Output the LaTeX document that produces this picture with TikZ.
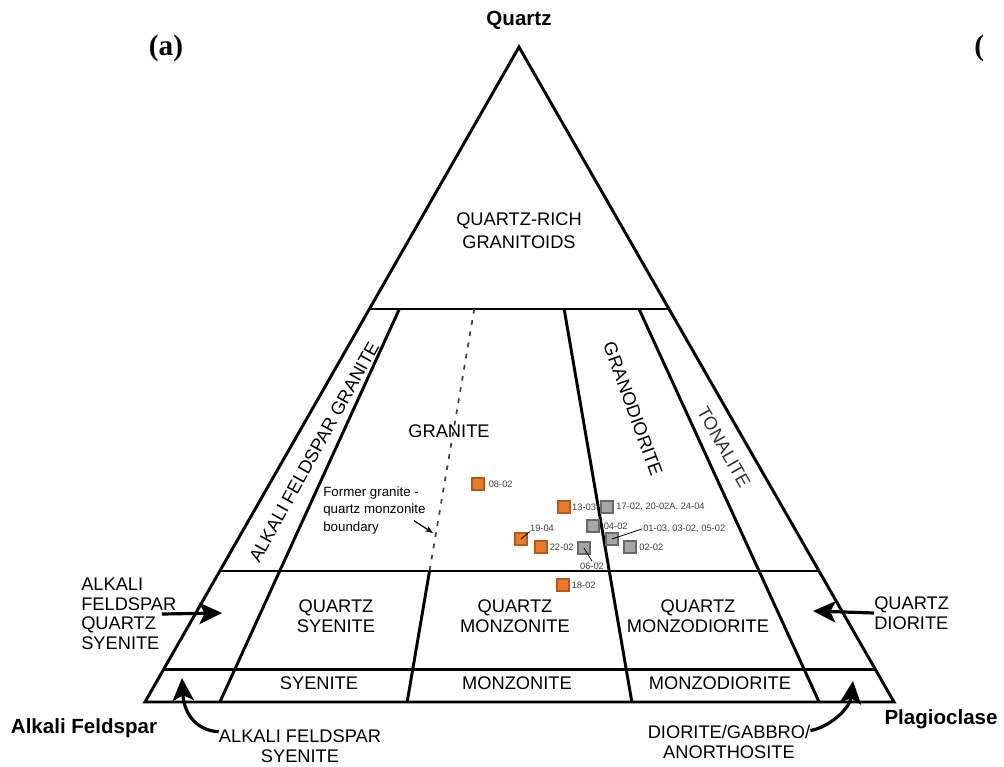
\documentclass[tikz,border=0pt]{standalone}
\usepackage{fontspec}
\setmainfont{Liberation Sans}
\newfontfamily\panelfont{Liberation Serif}
\usetikzlibrary{positioning,calc,arrows.meta}
\definecolor{smporange}{RGB}{232,122,40}
\definecolor{smporangedk}{RGB}{185,88,25}
\definecolor{smpgray}{RGB}{166,166,166}
\definecolor{smpgraydk}{RGB}{105,105,105}
\tikzset{
  fieldline/.style={line width=2.2pt},
  formerline/.style={line width=1.3pt, black!75, dash pattern=on 3.5pt off 5pt},
  fieldlbl/.style={font=\fontsize{13.7}{14.6}\selectfont, align=center, inner sep=0pt},
  endmember/.style={font=\bfseries\fontsize{15.4}{18}\selectfont, inner sep=0pt},
  smpbox/.style={draw, line width=0.8pt, minimum size=9pt, inner sep=0pt},
  orangebox/.style={smpbox, fill=smporange, draw=smporangedk},
  graybox/.style={smpbox, fill=smpgray, draw=smpgraydk},
  smplbl/.style={font=\fontsize{7}{8}\selectfont, text=black!75, inner sep=0pt},
  fieldarrow/.style={line width=2.4pt, -{Stealth[length=17pt,width=16pt,inset=4pt]}},
  smallarrow/.style={line width=0.9pt, -{Stealth[length=6pt,width=4.5pt]}},
  leader/.style={line width=0.6pt}
}
\begin{document}
\begin{tikzpicture}[x=0.75pt,y=-0.75pt]
\useasboundingbox (0,0) rectangle (1004,767);

% corners of the QAP triangle
\coordinate (Qz) at (519,47);
\coordinate (Af) at (145,702);
\coordinate (Pl) at (894,702);

% base points of the radial boundaries, P/(A+P)
\foreach \r/\nm in {0.10/b10,0.35/b35,0.65/b65,0.90/b90}
  \coordinate (\nm) at ($(Af)!\r!(Pl)$);

\draw[fieldline] (Qz) -- (Af) -- (Pl) -- cycle;

% Q = 60, 20 and 5
\foreach \q in {0.6,0.2,0.05}
  \draw[fieldline] ($(Af)!\q!(Qz)$) -- ($(Pl)!\q!(Qz)$);

% radial boundaries below Q = 60
\foreach \b in {b10,b65,b90}
  \draw[fieldline] ($(Qz)!0.4!(\b)$) -- (\b);
\draw[fieldline] ($(Qz)!0.8!(b35)$) -- (b35);
\draw[formerline] ($(Qz)!0.4!(b35)$) -- ($(Qz)!0.8!(b35)$);

% end members
\node[endmember, anchor=base] (qtz) at (519,26) {Quartz};
\node[endmember, anchor=base] (alk) at (84,733) {Alkali Feldspar};
\node[endmember, anchor=base] (plg) at (941,724) {Plagioclase};
\node[font=\panelfont\bfseries\fontsize{22}{24}\selectfont, anchor=base, inner sep=0pt]
  (pa) at (166,56) {(a)};
\node[font=\panelfont\bfseries\fontsize{22}{24}\selectfont, anchor=base west, inner sep=0pt]
  (pb) at (974,56) {(};

% fields
\node[fieldlbl, font=\fontsize{13.7}{17.3}\selectfont] (qrg) at (519,231) {QUARTZ-RICH\\GRANITOIDS};
\node[fieldlbl, rotate=61] (afg) at (314,452) {ALKALI FELDSPAR GRANITE};
\node[fieldlbl] (gra) at (449,431) {GRANITE};
\node[fieldlbl, rotate=-70] (grd) at (633,409) {GRANODIORITE};
\node[fieldlbl, rotate=-60.5, text=black!80] (ton) at (724,447) {TONALITE};
\node[fieldlbl] (qsy) at (336,616) {QUARTZ\\SYENITE};
\node[fieldlbl] (qmz) at (515,616) {QUARTZ\\MONZONITE};
\node[fieldlbl] (qmd) at (698,616) {QUARTZ\\MONZODIORITE};
\node[fieldlbl] (sye) at (319,683) {SYENITE};
\node[fieldlbl] (mzn) at (517,683) {MONZONITE};
\node[fieldlbl] (mzd) at (720,683) {MONZODIORITE};

% fields named outside the triangle
\node[fieldlbl, align=left, anchor=west] (afqs) at (81,614) {ALKALI\\FELDSPAR\\QUARTZ\\SYENITE};
\node[fieldlbl, align=left, anchor=west] (qd) at (874,613) {QUARTZ\\DIORITE};
\node[fieldlbl] (afs) at (300,746) {ALKALI FELDSPAR\\SYENITE};
\node[fieldlbl] (dga) at (729,742) {DIORITE/GABBRO/\\ANORTHOSITE};

\coordinate (afqsTip) at (222,613);
\coordinate (qdTip) at (813,611);
\coordinate (afsTip) at (182,678);
\coordinate (dgaTip) at (853,681);
\coordinate (fbTip) at (433,533);

\draw[fieldarrow] ([xshift=-11pt]afqs.east) -- (afqsTip);
\draw[fieldarrow] (qd.west) -- (qdTip);
\draw[fieldarrow] (afs.170) .. controls (198,731) and (184,715) .. (afsTip);
\draw[fieldarrow] (dga.8) .. controls (830,727) and (850,708) .. (dgaTip);

% former boundary note
\node[font=\fontsize{10}{12.8}\selectfont, align=left, anchor=north west, inner sep=0pt]
  (fb) at (323,487) {Former granite -\\quartz monzonite\\boundary};
\draw[smallarrow] ([shift={(-12,10)}]fb.east) -- (fbTip);

% samples
\node[orangebox] (s0802) at (478,484) {};
\node[orangebox] (s1303) at (564,507) {};
\node[orangebox] (s1904) at (521,539) {};
\node[orangebox] (s2202) at (541,547) {};
\node[orangebox] (s1802) at (563,585) {};
\node[graybox] (s1702) at (607,507) {};
\node[graybox] (s0402) at (593,526) {};
\node[graybox] (s0103) at (612,539) {};
\node[graybox] (s0202) at (630,547) {};
\node[graybox] (s0602) at (584,548) {};

\node[smplbl, right=3pt of s0802] (l0802) {08-02};
\node[smplbl, right=1pt of s1303] (l1303) {13-03};
\node[smplbl, right=1.5pt of s2202] (l2202) {22-02};
\node[smplbl, right=1.5pt of s1802] (l1802) {18-02};
\node[smplbl, right=2pt of s1702] (l1702) {17-02, 20-02A, 24-04};
\node[smplbl, right=3pt of s0402] (l0402) {04-02};
\node[smplbl, right=2pt of s0202] (l0202) {02-02};
\node[smplbl] (l1904) at (542,528) {19-04};
\node[smplbl, anchor=west] (l0103) at (643,529) {01-03, 03-02, 05-02};
\node[smplbl] (l0602) at (592,566) {06-02};

\draw[leader] (s1904.center) -- (l1904.south west);
\draw[leader] (s0103.center) -- ([xshift=-1pt]l0103.west);
\draw[leader] (s0602.center) -- ([yshift=1pt]l0602.north);

\end{tikzpicture}
\end{document}
